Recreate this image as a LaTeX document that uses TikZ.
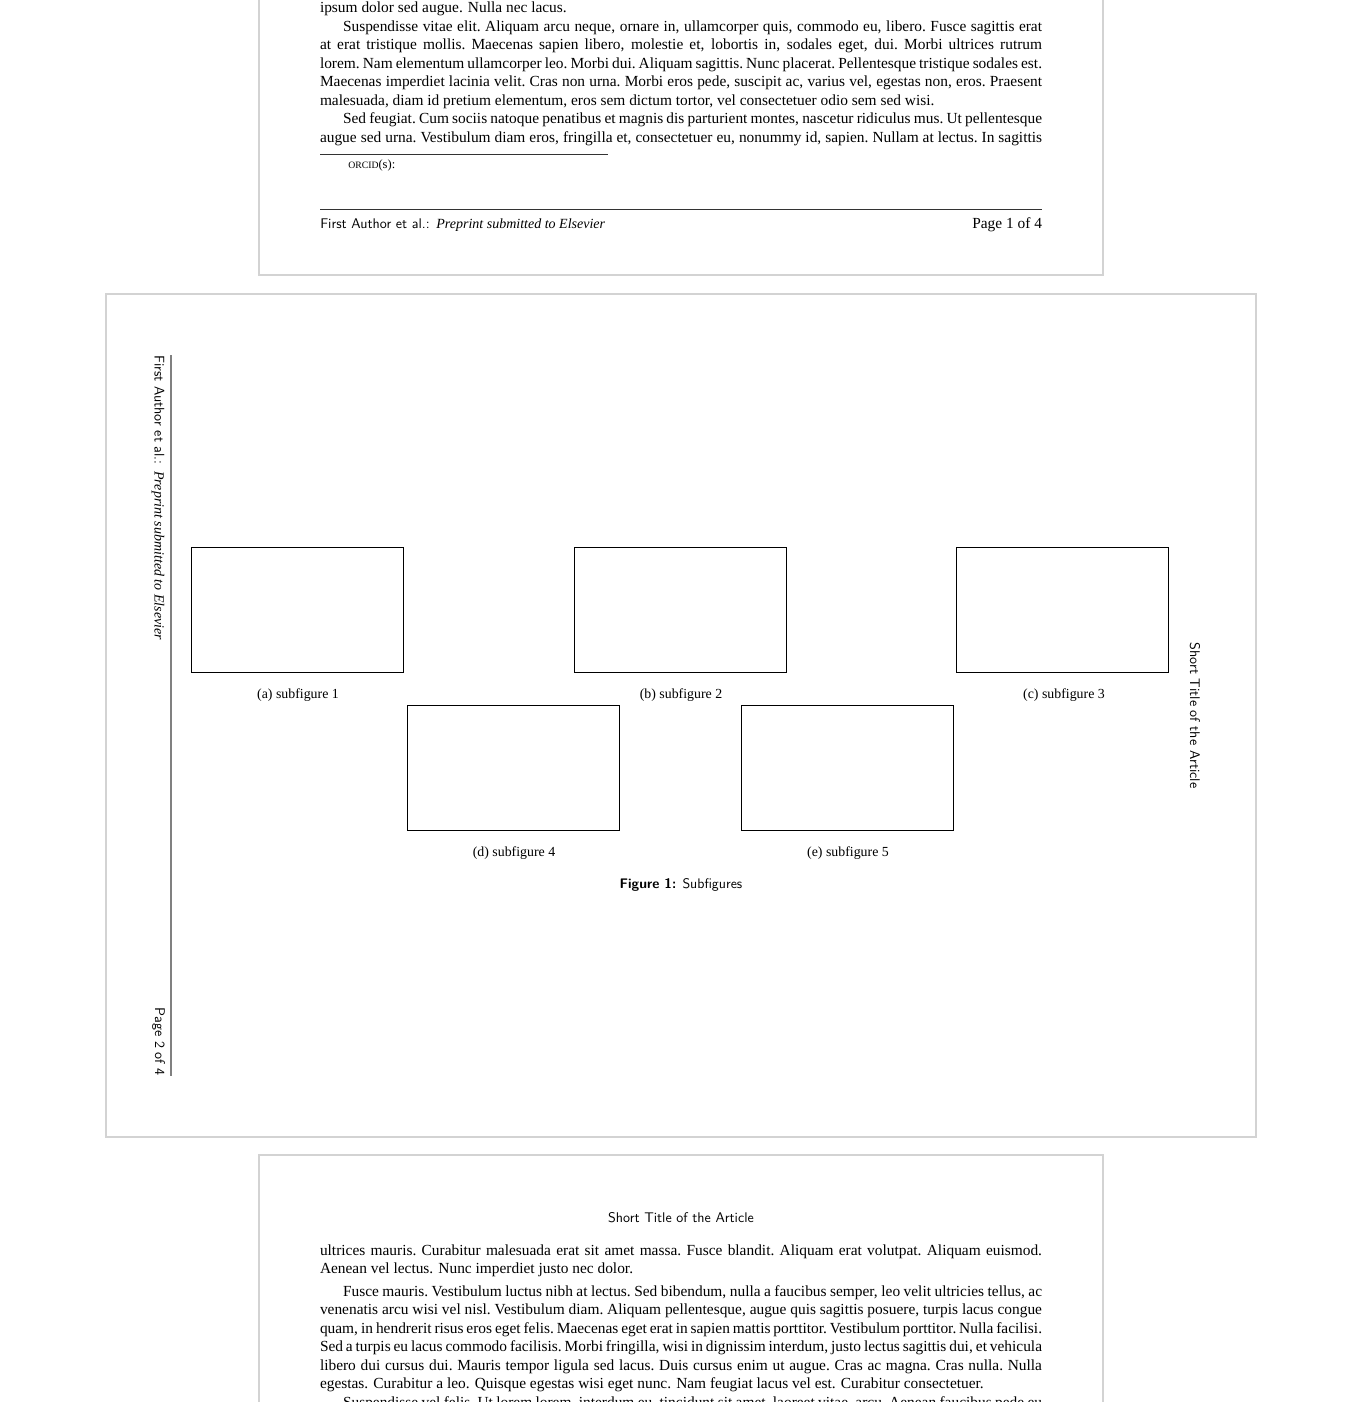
\documentclass[tikz,border=0pt]{standalone}
\usepackage{fontspec}
\setmainfont{Liberation Serif}
\definecolor{pagegray}{RGB}{211,211,211}
\definecolor{rulegray}{RGB}{128,128,128}
\newcommand\jline[2][0pt]{\hbox to 541.5pt{\spaceskip=0.25em plus 1em minus 0.12em\xspaceskip=\spaceskip\hskip#1\relax #2}}
\newcommand\nline[2][0pt]{\hbox{\hskip#1\relax #2}}
\tikzset{
  pageframe/.style={draw=pagegray, line width=1.5pt},
  body/.style={anchor=base west, inner sep=0pt, outer sep=0pt, font=\fontsize{11.55}{13.9}\selectfont},
  subbox/.style={draw=black, line width=0.75pt, minimum width=159pt, minimum height=93.75pt, inner sep=0pt, outer sep=0pt},
  subcap/.style={anchor=base, inner sep=0pt, font=\fontsize{10.4}{12}\selectfont},
  foot/.style={inner sep=0pt, font=\fontsize{10.5}{12}\selectfont},
  thinrule/.style={draw=black!80, line width=0.6pt},
}
\begin{document}
\begin{tikzpicture}[x=0.75pt, y=-0.75pt]
\useasboundingbox (0,0) rectangle (1346,1402);
\clip (0,0) rectangle (1346,1402);
% ---------- page frames ----------
\draw[pageframe] (259,-20) rectangle (1103,275);
\draw[pageframe] (106,294) rectangle (1256,1137);
\draw[pageframe] (259,1155) rectangle (1103,1430);

% ---------- page 1 ----------
\node[body] (p1l0) at (320,13) {\nline{ipsum dolor sed augue. Nulla nec lacus.}};
\node[body] (p1l1) at (320,31.5) {\jline[17.25pt]{Suspendisse vitae elit. Aliquam arcu neque, ornare in, ullamcorper quis, commodo eu, libero. Fusce sagittis erat}};
\node[body] (p1l2) at (320,50) {\jline{at erat tristique mollis. Maecenas sapien libero, molestie et, lobortis in, sodales eget, dui. Morbi ultrices rutrum}};
\node[body] (p1l3) at (320,68.5) {\jline{lorem. Nam elementum ullamcorper leo. Morbi dui. Aliquam sagittis. Nunc placerat. Pellentesque tristique sodales est.}};
\node[body] (p1l4) at (320,87) {\jline{Maecenas imperdiet lacinia velit. Cras non urna. Morbi eros pede, suscipit ac, varius vel, egestas non, eros. Praesent}};
\node[body] (p1l5) at (320,105.5) {\nline{malesuada, diam id pretium elementum, eros sem dictum tortor, vel consectetuer odio sem sed wisi.}};
\node[body] (p1l6) at (320,124) {\jline[17.25pt]{Sed feugiat. Cum sociis natoque penatibus et magnis dis parturient montes, nascetur ridiculus mus. Ut pellentesque}};
\node[body] (p1l7) at (320,142.5) {\jline{augue sed urna. Vestibulum diam eros, fringilla et, consectetuer eu, nonummy id, sapien. Nullam at lectus. In sagittis}};

\coordinate (fnA) at (320,154);
\coordinate (fnB) at (608,154);
\draw[thinrule] (fnA) -- (fnB);
\node[anchor=base west, inner sep=0pt] (orcid) at (348,169) {{\fontsize{7.3}{8}\selectfont ORCID}{\fontsize{9.4}{10}\selectfont (s):}};

\coordinate (ftA) at (320,209);
\coordinate (ftB) at (1042,209);
\draw[thinrule] (ftA) -- (ftB);
\node[foot, anchor=base west] (foot1) at (320,228) {\sffamily First Author et al.:\hskip 5pt\rmfamily\itshape Preprint submitted to Elsevier};
\node[body, anchor=base east] (page1) at (1042,228) {Page 1 of 4};

% ---------- page 2 ----------
\coordinate (vrA) at (171,355);
\coordinate (vrB) at (171,1076);
\draw[draw=rulegray, line width=1pt] (vrA) -- (vrB);
\node[foot, rotate=-90, anchor=base west] (rfoot) at (154.5,355) {\sffamily First Author et al.:\hskip 5pt\rmfamily\itshape Preprint submitted to Elsevier};
\node[foot, rotate=-90, anchor=base east] (page2) at (155,1076) {\sffamily Page 2 of 4};
\node[foot, rotate=-90, anchor=base] (rhead) at (1190,715.5) {\sffamily Short Title of the Article};

\node[subbox] (boxa) at (297,609.75) {};
\node[subbox] (boxb) at (680,609.75) {};
\node[subbox] (boxc) at (1062.5,609.75) {};
\node[subbox] (boxd) at (513,767.5) {};
\node[subbox] (boxe) at (847,767.5) {};

\node[subcap] (capa) at (298,698.5) {(a) subfigure 1};
\node[subcap] (capb) at (681,698.5) {(b) subfigure 2};
\node[subcap] (capc) at (1064,698.5) {(c) subfigure 3};
\node[subcap] (capd) at (514,856.5) {(d) subfigure 4};
\node[subcap] (cape) at (848,856.5) {(e) subfigure 5};
\node[subcap, font=\fontsize{10.4}{12}\selectfont\sffamily] (figcap) at (681,888.5) {\textbf{Figure 1:} Subfigures};

% ---------- page 3 ----------
\node[foot, anchor=base] (head3) at (681,1222.5) {\sffamily Short Title of the Article};
\node[body] (p3l0) at (320,1255) {\jline{ultrices mauris. Curabitur malesuada erat sit amet massa. Fusce blandit. Aliquam erat volutpat. Aliquam euismod.}};
\node[body] (p3l1) at (320,1273.5) {\nline{Aenean vel lectus. Nunc imperdiet justo nec dolor.}};
\node[body] (p3l2) at (320,1296) {\jline[17.25pt]{Fusce mauris. Vestibulum luctus nibh at lectus. Sed bibendum, nulla a faucibus semper, leo velit ultricies tellus, ac}};
\node[body] (p3l3) at (320,1314.5) {\jline{venenatis arcu wisi vel nisl. Vestibulum diam. Aliquam pellentesque, augue quis sagittis posuere, turpis lacus congue}};
\node[body] (p3l4) at (320,1333) {\jline{quam, in hendrerit risus eros eget felis. Maecenas eget erat in sapien mattis porttitor. Vestibulum porttitor. Nulla facilisi.}};
\node[body] (p3l5) at (320,1351.5) {\jline{Sed a turpis eu lacus commodo facilisis. Morbi fringilla, wisi in dignissim interdum, justo lectus sagittis dui, et vehicula}};
\node[body] (p3l6) at (320,1370) {\jline{libero dui cursus dui. Mauris tempor ligula sed lacus. Duis cursus enim ut augue. Cras ac magna. Cras nulla. Nulla}};
\node[body] (p3l7) at (320,1388.5) {\nline{egestas. Curabitur a leo. Quisque egestas wisi eget nunc. Nam feugiat lacus vel est. Curabitur consectetuer.}};
\node[body] (p3l8) at (320,1407) {\jline[17.25pt]{Suspendisse vel felis. Ut lorem lorem, interdum eu, tincidunt sit amet, laoreet vitae, arcu. Aenean faucibus pede eu}};
\end{tikzpicture}
\end{document}
